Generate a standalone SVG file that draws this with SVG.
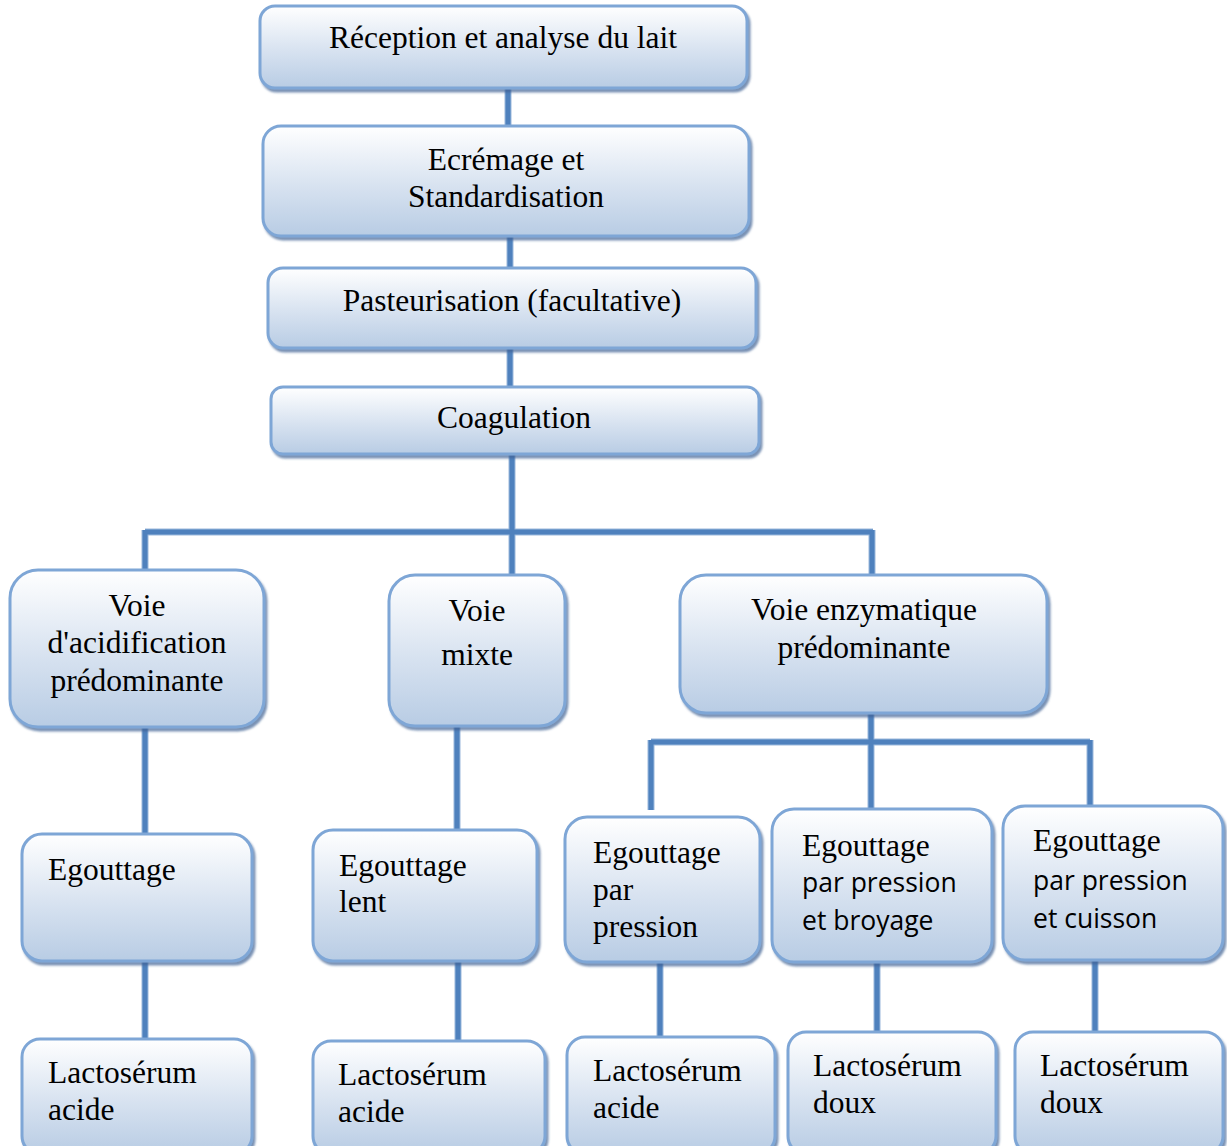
<svg xmlns="http://www.w3.org/2000/svg" width="1227" height="1146" viewBox="0 0 1227 1146">
<defs>
<linearGradient id="g" x1="0" y1="0" x2="0" y2="1">
<stop offset="0" stop-color="#ffffff"/>
<stop offset="0.55" stop-color="#d7e2f0"/>
<stop offset="1" stop-color="#b8cce4"/>
</linearGradient>
<filter id="sh" x="-5%" y="-5%" width="115%" height="120%">
<feDropShadow dx="2" dy="3" stdDeviation="1" flood-color="#3f6294" flood-opacity="0.7"/>
</filter>
</defs>
<style>
.box{fill:url(#g);stroke:#7ea6d6;stroke-width:3;filter:url(#sh)}
.t{font-family:"Liberation Serif","Times New Roman",serif;font-size:31.5px;fill:#000}
.c{text-anchor:middle}
.s{font-family:"Open Sans","Liberation Sans",sans-serif;font-size:26.5px;fill:#000}
.ln{stroke:#4f81bd;stroke-width:5;fill:none}
.lo{stroke:#9bb8dc;stroke-width:7;fill:none}
</style>
<g id="connectors">
<g class="lo">
<path d="M508 89V125M510 237V268M510 349V387M512 455V575M145 532H873M145 530V570M872 530V574M145 728V833M457 727V829M871 714V808M651 742H1090M651 740V810M1090 740V805M145 962V1038M458 962V1040M660 963V1036M877 963V1031M1095 961V1031"/>
</g>
<g class="ln">
<path d="M508 89V125M510 237V268M510 349V387M512 455V575M145 532H873M145 530V570M872 530V574M145 728V833M457 727V829M871 714V808M651 742H1090M651 740V810M1090 740V805M145 962V1038M458 962V1040M660 963V1036M877 963V1031M1095 961V1031"/>
</g>
</g>
<g id="n1"><rect class="box" x="260" y="6" width="487" height="82" rx="15"/><text class="t c" x="503" y="48">Réception et analyse du lait</text></g>
<g id="n2"><rect class="box" x="263" y="126" width="486" height="110" rx="18"/><text class="t c" x="506" y="170">Ecrémage et</text><text class="t c" x="506" y="207">Standardisation</text></g>
<g id="n3"><rect class="box" x="268" y="268" width="488" height="80" rx="15"/><text class="t c" x="512" y="311">Pasteurisation (facultative)</text></g>
<g id="n4"><rect class="box" x="271" y="387" width="488" height="67" rx="12"/><text class="t c" x="514" y="428">Coagulation</text></g>
<g id="n5"><rect class="box" x="10" y="570" width="254" height="157" rx="28"/><text class="t c" x="137" y="616">Voie</text><text class="t c" x="137" y="653">d'acidification</text><text class="t c" x="137" y="691">prédominante</text></g>
<g id="n6"><rect class="box" x="389" y="575" width="176" height="151" rx="26"/><text class="t c" x="477" y="621">Voie</text><text class="t c" x="477" y="665">mixte</text></g>
<g id="n7"><rect class="box" x="680" y="575" width="367" height="138" rx="26"/><text class="t c" x="864" y="620">Voie enzymatique</text><text class="t c" x="864" y="658">prédominante</text></g>
<g id="n8"><rect class="box" x="22" y="834" width="230" height="127" rx="20"/><text class="t" x="48" y="880">Egouttage</text></g>
<g id="n9"><rect class="box" x="313" y="830" width="224" height="131" rx="20"/><text class="t" x="339" y="876">Egouttage</text><text class="t" x="339" y="912">lent</text></g>
<g id="n10"><rect class="box" x="565" y="817" width="195" height="145" rx="22"/><text class="t" x="593" y="863">Egouttage</text><text class="t" x="593" y="900">par</text><text class="t" x="593" y="937">pression</text></g>
<g id="n11"><rect class="box" x="772" y="809" width="220" height="153" rx="22"/><text class="t" x="802" y="856">Egouttage</text><text class="s" x="802" y="892">par pression</text><text class="s" x="802" y="930">et broyage</text></g>
<g id="n12"><rect class="box" x="1003" y="806" width="220" height="154" rx="22"/><text class="t" x="1033" y="851">Egouttage</text><text class="s" x="1033" y="890">par pression</text><text class="s" x="1033" y="928">et cuisson</text></g>
<g id="n13"><rect class="box" x="22" y="1039" width="230" height="115" rx="18"/><text class="t" x="48" y="1083">Lactosérum</text><text class="t" x="48" y="1120">acide</text></g>
<g id="n14"><rect class="box" x="313" y="1041" width="232" height="113" rx="18"/><text class="t" x="338" y="1085">Lactosérum</text><text class="t" x="338" y="1122">acide</text></g>
<g id="n15"><rect class="box" x="567" y="1037" width="208" height="117" rx="18"/><text class="t" x="593" y="1081">Lactosérum</text><text class="t" x="593" y="1118">acide</text></g>
<g id="n16"><rect class="box" x="788" y="1032" width="208" height="122" rx="18"/><text class="t" x="813" y="1076">Lactosérum</text><text class="t" x="813" y="1113">doux</text></g>
<g id="n17"><rect class="box" x="1015" y="1032" width="208" height="122" rx="18"/><text class="t" x="1040" y="1076">Lactosérum</text><text class="t" x="1040" y="1113">doux</text></g>
</svg>
